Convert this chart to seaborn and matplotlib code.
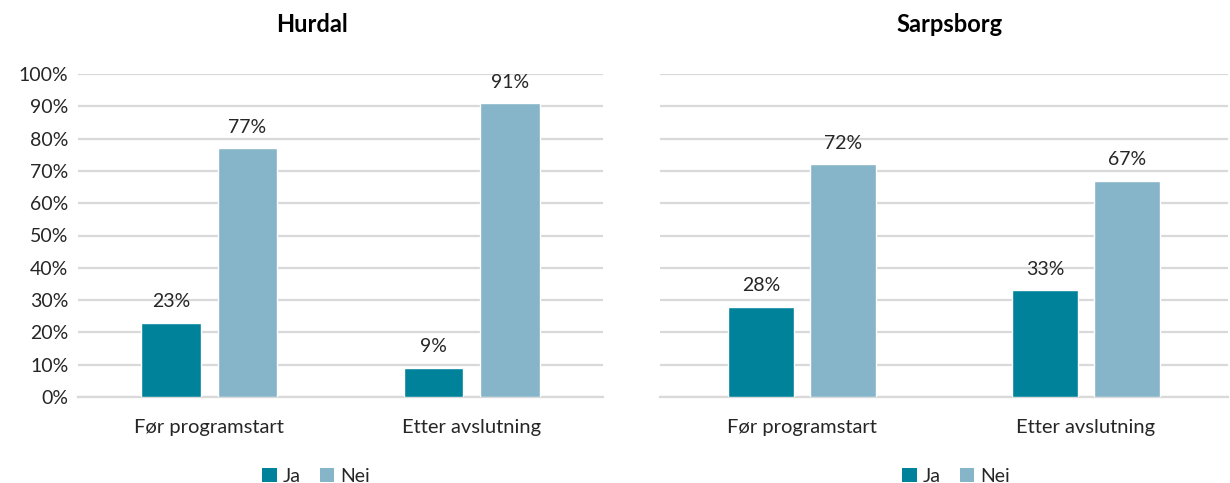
import matplotlib
matplotlib.use("Agg")
import matplotlib.pyplot as plt
import seaborn as sns
import pandas as pd
from matplotlib.ticker import PercentFormatter
from matplotlib.patches import Patch

sns.set_theme(style="white")
plt.rcParams['font.family'] = ['Lato', 'DejaVu Sans']

categories = ["Før programstart", "Etter avslutning"]
series = ["Ja", "Nei"]
hurdal_ja = [23, 9]
hurdal_nei = [77, 91]
sarpsborg_ja = [28, 33]
sarpsborg_nei = [72, 67]
panels = ["Hurdal", "Sarpsborg"]
yticks = [0, 10, 20, 30, 40, 50, 60, 70, 80, 90, 100]

colors = {"Ja": "#00829B", "Nei": "#86B4C8"}
grid_c = "#D9D9D9"
txt_c = "#262626"

def frame(ja, nei):
    rows = []
    for c, a, b in zip(categories, ja, nei):
        rows.append({"cat": c, "serie": "Ja", "val": a})
        rows.append({"cat": c, "serie": "Nei", "val": b})
    return pd.DataFrame(rows)

fig = plt.figure(figsize=(12.3, 4.83), dpi=100)
ax1 = fig.add_axes([78/1230, 1-397/483, 525/1230, 323/483])
ax2 = fig.add_axes([660/1230, 1-397/483, 568/1230, 323/483])

data = [(ax1, frame(hurdal_ja, hurdal_nei), panels[0], True, 0.22),
        (ax2, frame(sarpsborg_ja, sarpsborg_nei), panels[1], False, 0.20)]

for ax, df, title, show_y, gap in data:
    sns.barplot(data=df, x="cat", y="val", hue="serie", order=categories,
                hue_order=series, palette=colors, width=0.58, gap=gap,
                saturation=1, ax=ax, legend=False, zorder=3)
    ax.set_ylim(0, 100)
    ax.set_xlim(-0.5, 1.5)
    ax.set_yticks(yticks)
    ax.yaxis.set_major_formatter(PercentFormatter(decimals=0))
    ax.grid(axis="y", color=grid_c, linewidth=1.6, zorder=0)
    ax.set_axisbelow(True)
    for s in ["top", "right", "left"]:
        ax.spines[s].set_visible(False)
    ax.spines["bottom"].set_color(grid_c)
    ax.spines["bottom"].set_linewidth(1.6)
    ax.set_xlabel("")
    ax.set_ylabel("")
    ax.tick_params(axis="x", length=0, pad=16, labelsize=14.5, colors=txt_c)
    ax.tick_params(axis="y", length=0, pad=7, labelsize=14, colors=txt_c)
    if not show_y:
        ax.set_yticklabels([])
    for cont in ax.containers:
        ax.bar_label(cont, labels=[f"{v:.0f}%" for v in cont.datavalues],
                     padding=9, fontsize=14, color=txt_c)

fig.text(312/1230, 1-25/483, panels[0], ha="center", va="center",
         fontsize=17, fontweight="bold", color="#000000")
fig.text(950/1230, 1-25/483, panels[1], ha="center", va="center",
         fontsize=17, fontweight="bold", color="#000000")

handles = [Patch(facecolor=colors[s], edgecolor="none", label=s) for s in series]
for cx in [316/1230, 956/1230]:
    fig.legend(handles=handles, loc="center", bbox_to_anchor=(cx, 1-476/483),
               ncol=2, frameon=False, fontsize=14, handlelength=0.75,
               handleheight=0.75, handletextpad=0.3, columnspacing=1.0,
               labelcolor=txt_c)

fig.savefig("out.png", dpi=100)
